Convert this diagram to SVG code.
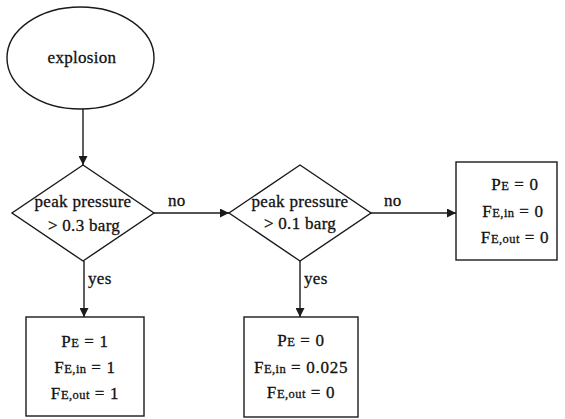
<svg xmlns="http://www.w3.org/2000/svg" width="565" height="419" viewBox="0 0 565 419">
  <defs>
    <marker id="arrow" viewBox="0 0 10 10" refX="10" refY="5" markerWidth="10" markerHeight="9" markerUnits="userSpaceOnUse" orient="auto">
      <path d="M0,0 L10,5 L0,10 Z" fill="#1a1a1a"/>
    </marker>
  </defs>
  <style>
    .shape { fill: #ffffff; stroke: #1a1a1a; stroke-width: 1.4; }
    .edge { fill: none; stroke: #1a1a1a; stroke-width: 1.4; marker-end: url(#arrow); }
    text { font-family: "Liberation Serif", "Times New Roman", serif; font-size: 17px; fill: #111111; stroke: #111111; stroke-width: 0.3; letter-spacing: 0.3px; }
    .c { text-anchor: middle; }
    .val { letter-spacing: 0.7px; }
    .sub { font-size: 12.5px; letter-spacing: 0.4px; }
  </style>
  <rect width="565" height="419" fill="#ffffff"/>

  <!-- connectors -->
  <g id="connectors">
    <line class="edge" x1="83" y1="109" x2="83" y2="165"/>
    <line class="edge" x1="154" y1="213" x2="229" y2="213"/>
    <line class="edge" x1="371" y1="213" x2="456" y2="213"/>
    <line class="edge" x1="84" y1="261" x2="84" y2="317"/>
    <line class="edge" x1="300" y1="261" x2="300" y2="317"/>
    <text x="168" y="206">no</text>
    <text x="384" y="206">no</text>
    <text x="88" y="284">yes</text>
    <text x="304" y="284">yes</text>
  </g>

  <!-- start event -->
  <g id="explosion">
    <ellipse class="shape" cx="80.5" cy="58" rx="73.5" ry="51"/>
    <text class="c" x="82" y="63">explosion</text>
  </g>

  <!-- first decision -->
  <g id="decision-03">
    <polygon class="shape" points="83,165 154,213 83,261 12,213"/>
    <text class="c" x="83" y="207">peak pressure</text>
    <text class="c" x="84" y="231">&gt; 0.3 barg</text>
  </g>

  <!-- second decision -->
  <g id="decision-01">
    <polygon class="shape" points="300,165 371,213 300,261 229,213"/>
    <text class="c" x="300" y="207">peak pressure</text>
    <text class="c" x="300" y="229">&gt; 0.1 barg</text>
  </g>

  <!-- outcome: strong explosion -->
  <g id="outcome-high">
    <rect class="shape" x="26" y="317" width="118" height="99"/>
    <text class="c val" x="85" y="347">P<tspan class="sub">E</tspan> = 1</text>
    <text class="c val" x="85" y="373">F<tspan class="sub">E,in</tspan> = 1</text>
    <text class="c val" x="85" y="399">F<tspan class="sub">E,out</tspan> = 1</text>
  </g>

  <!-- outcome: moderate explosion -->
  <g id="outcome-mid">
    <rect class="shape" x="244" y="317" width="114" height="100"/>
    <text class="c val" x="301" y="346">P<tspan class="sub">E</tspan> = 0</text>
    <text class="c val" x="301" y="373">F<tspan class="sub">E,in</tspan> = 0.025</text>
    <text class="c val" x="301" y="398">F<tspan class="sub">E,out</tspan> = 0</text>
  </g>

  <!-- outcome: weak explosion -->
  <g id="outcome-low">
    <rect class="shape" x="456" y="162" width="101" height="98"/>
    <text class="c val" x="515" y="190">P<tspan class="sub">E</tspan> = 0</text>
    <text class="c val" x="513" y="217">F<tspan class="sub">E,in</tspan> = 0</text>
    <text class="c val" x="515" y="243">F<tspan class="sub">E,out</tspan> = 0</text>
  </g>
</svg>
